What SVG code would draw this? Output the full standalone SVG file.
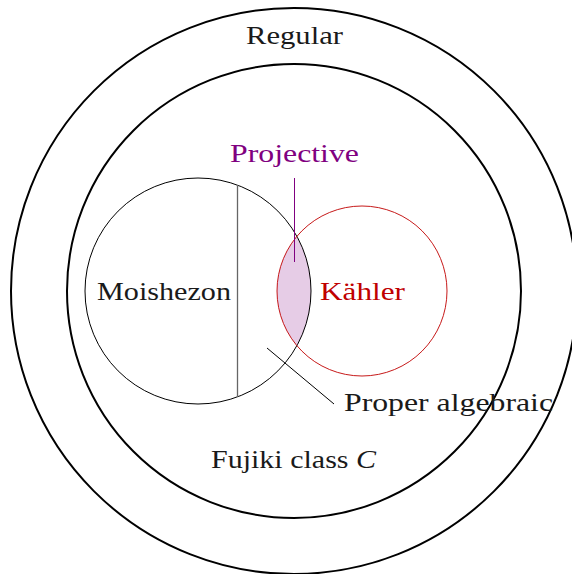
<svg xmlns="http://www.w3.org/2000/svg" width="572" height="574" viewBox="0 0 572 574">
<style>
text{font-family:"Liberation Serif","DejaVu Serif",serif;font-size:25px;fill:#1a1a1a}
.big{fill:none;stroke:#000;stroke-width:2}
.thin{fill:none;stroke:#000;stroke-width:1}
</style>
<rect width="572" height="574" fill="#fff"/>
<g id="regular">
<circle class="big" cx="294" cy="291" r="283"/>
<text x="246" y="44" textLength="97" lengthAdjust="spacingAndGlyphs">Regular</text>
</g>
<g id="fujiki">
<circle class="big" cx="294" cy="291" r="227"/>
<text x="211" y="468" textLength="165" lengthAdjust="spacingAndGlyphs">Fujiki class <tspan font-style="italic">C</tspan></text>
</g>
<g id="projective">
<path d="M296.9 236.3 A113 113 0 0 1 296.9 345.7 A85 85 0 0 1 296.9 236.3 Z" fill="#e6cce6"/>
<text x="230" y="162" textLength="129" lengthAdjust="spacingAndGlyphs" style="fill:#800080">Projective</text>
</g>
<g id="moishezon">
<circle class="thin" cx="198" cy="291" r="113"/>
<text x="97" y="300" textLength="134" lengthAdjust="spacingAndGlyphs">Moishezon</text>
</g>
<g id="kahler">
<circle cx="362" cy="291" r="85" fill="none" stroke="#c00000" stroke-width="0.9"/>
<text x="320" y="300" textLength="85" lengthAdjust="spacingAndGlyphs" style="fill:#c00000">Kähler</text>
</g>
<g id="proper">
<text x="344" y="411" textLength="209" lengthAdjust="spacingAndGlyphs">Proper algebraic</text>
</g>
<g id="connectors">
<line x1="237.5" y1="185" x2="237.5" y2="397" stroke="#666" stroke-width="1.3"/>
<line x1="294.5" y1="178" x2="294.5" y2="262" stroke="#800080" stroke-width="1"/>
<line x1="267" y1="348" x2="334" y2="404" stroke="#000" stroke-width="1"/>
</g>
</svg>
